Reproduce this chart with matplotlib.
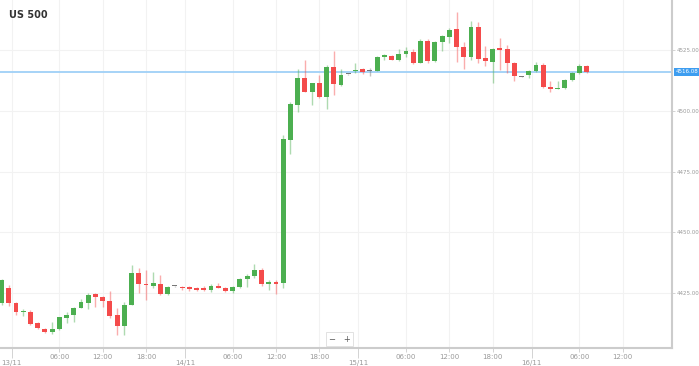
import numpy as np
import matplotlib
matplotlib.use('Agg')
import matplotlib.pyplot as plt

# hourly candles, first one is 12/11 22:00 (hour -2 relative to 13/11 00:00)
start_hour = -2
opens = [4421.0, 4427.0, 4420.8, 4417.2, 4417.1, 4412.6, 4410.2, 4409.1, 4410.2, 4414.9,
         4416.0, 4419.0, 4421.0, 4424.5, 4423.5, 4421.7, 4416.0, 4411.5, 4420.1, 4433.2,
         4428.8, 4428.0, 4428.6, 4424.6, 4427.9, 4427.6, 4427.4, 4427.0, 4427.0, 4426.2,
         4427.9, 4427.3, 4425.8, 4427.4, 4430.8, 4432.0, 4434.5, 4428.6, 4429.7, 4429.0,
         4488.1, 4502.5, 4513.5, 4507.7, 4511.4, 4505.9, 4518.2, 4510.7, 4515.2, 4516.5,
         4517.2, 4516.6, 4516.6, 4522.4, 4522.8, 4521.0, 4523.5, 4524.4, 4519.9, 4529.0,
         4520.7, 4528.3, 4530.6, 4533.6, 4526.2, 4522.1, 4534.5, 4521.7, 4520.3, 4525.8,
         4525.5, 4519.9, 4514.1, 4514.7, 4516.5, 4518.9, 4510.0, 4509.2, 4509.3, 4512.8,
         4515.6, 4518.5]
highs = [4431.0, 4428.3, 4421.5, 4418.3, 4418.0, 4413.2, 4410.5, 4413.2, 4415.3, 4417.3,
         4419.4, 4422.6, 4424.9, 4424.9, 4423.8, 4425.7, 4418.7, 4421.5, 4436.6, 4435.2,
         4434.5, 4433.8, 4432.5, 4427.8, 4428.1, 4428.0, 4428.0, 4427.6, 4428.0, 4428.6,
         4429.0, 4427.5, 4428.0, 4431.4, 4432.7, 4436.9, 4435.5, 4430.4, 4430.4, 4490.1,
         4503.8, 4517.2, 4521.0, 4511.6, 4514.8, 4518.9, 4524.7, 4517.3, 4515.4, 4519.9,
         4517.6, 4517.8, 4522.6, 4523.5, 4523.2, 4525.5, 4526.5, 4525.4, 4529.5, 4529.5,
         4529.0, 4531.3, 4534.1, 4540.9, 4528.5, 4537.2, 4536.8, 4526.8, 4525.8, 4529.9,
         4527.2, 4520.3, 4514.3, 4516.9, 4520.3, 4519.6, 4512.5, 4512.5, 4513.0, 4516.2,
         4519.3, 4518.9]
lows = [4420.0, 4419.8, 4416.0, 4415.6, 4411.9, 4410.2, 4408.7, 4408.3, 4409.8, 4412.8,
        4413.2, 4418.7, 4418.4, 4419.4, 4419.4, 4414.6, 4407.7, 4407.8, 4420.0, 4424.9,
        4422.2, 4427.0, 4424.2, 4424.2, 4427.7, 4426.2, 4425.7, 4426.0, 4426.0, 4425.3,
        4427.0, 4425.5, 4425.2, 4427.0, 4427.4, 4431.4, 4428.0, 4426.2, 4424.6, 4427.0,
        4482.3, 4499.7, 4508.0, 4502.5, 4505.4, 4500.7, 4506.6, 4510.4, 4515.0, 4515.8,
        4515.1, 4514.4, 4516.4, 4521.0, 4521.0, 4520.7, 4522.4, 4519.4, 4519.6, 4519.6,
        4520.3, 4524.8, 4528.1, 4520.3, 4517.2, 4521.0, 4519.9, 4518.5, 4511.4, 4516.9,
        4515.5, 4512.5, 4513.9, 4513.5, 4516.2, 4509.4, 4507.7, 4509.0, 4509.2, 4512.5,
        4515.3, 4515.5]
closes = [4430.4, 4420.8, 4417.1, 4417.6, 4412.1, 4410.5, 4409.1, 4410.2, 4415.0, 4416.0,
          4419.0, 4421.2, 4424.2, 4423.3, 4421.7, 4415.7, 4411.5, 4420.1, 4433.2, 4428.6,
          4428.4, 4429.0, 4424.6, 4427.6, 4427.9, 4427.0, 4426.6, 4426.4, 4426.3, 4428.0,
          4427.3, 4426.0, 4427.4, 4430.8, 4432.0, 4434.5, 4428.6, 4429.7, 4428.7, 4488.3,
          4502.8, 4513.5, 4508.0, 4511.4, 4505.6, 4518.0, 4511.0, 4514.8, 4515.2, 4517.0,
          4516.2, 4516.6, 4522.4, 4522.8, 4521.0, 4523.5, 4524.7, 4519.9, 4529.0, 4520.7,
          4528.5, 4530.9, 4533.4, 4526.2, 4522.1, 4534.5, 4521.3, 4520.7, 4525.4, 4525.1,
          4519.9, 4514.4, 4514.1, 4516.5, 4518.9, 4509.8, 4509.1, 4509.6, 4512.8, 4515.8,
          4518.5, 4516.08]

title = 'US 500'
last_price = 4516.08
price_ticks = [4425, 4450, 4475, 4500, 4525]
time_labels = ['06:00', '12:00', '18:00']
date_labels = ['13/11', '14/11', '15/11', '16/11']

GREEN = '#4caf50'
RED = '#f44b4b'
GRAY = '#777777'

hours = np.arange(len(opens)) + start_hour
o = np.array(opens)
c = np.array(closes)
h = np.array(highs)
l = np.array(lows)

fig = plt.figure(figsize=(6.99, 3.66), dpi=100)
ax = fig.add_axes([0.0, 18 / 366, 672 / 699, 348 / 366])

colors = np.where(c > o, GREEN, np.where(c < o, RED, GRAY))

# wicks
for x, hi, lo, col in zip(hours, h, l, colors):
    ax.vlines(x, lo, hi, color=col, alpha=0.45, lw=1.0, zorder=2)

# bodies
bottoms = np.minimum(o, c)
heights = np.maximum(np.abs(c - o), 0.45)
ax.bar(hours, heights, bottom=bottoms, width=0.68, color=colors, lw=0, zorder=3)

# last price line
ax.axhline(last_price, color='#9fd0f7', lw=1.3, zorder=1)

ax.set_xlim(-2.21, 90.83)
ax.set_ylim(4402.4, 4545.7)

# time axis: day labels sit a bit before midnight, hours every 6h
day_pos = [24 * d - 0.6 for d in range(len(date_labels))]
hour_pos = [24 * d + int(t[:2]) for d in range(len(date_labels)) for t in time_labels]
hour_lab = [t for d in range(len(date_labels)) for t in time_labels]
hour_pos, hour_lab = zip(*[(p, s) for p, s in zip(hour_pos, hour_lab) if p < 90])

ax.set_xticks(day_pos)
ax.set_xticklabels(date_labels)
ax.set_xticks(hour_pos, minor=True)
ax.set_xticklabels(hour_lab, minor=True)
ax.tick_params(axis='x', which='major', length=7, width=0.6, color='#cccccc',
               labelsize=5, labelcolor='#999999', pad=1.5)
ax.tick_params(axis='x', which='minor', length=3, width=0.6, color='#cccccc',
               labelsize=5, labelcolor='#999999', pad=1)

ax.yaxis.tick_right()
ax.set_yticks(price_ticks)
ax.set_yticklabels([f'{p:.2f}' for p in price_ticks])
ax.tick_params(axis='y', length=2.5, width=0.6, color='#cccccc', labelsize=4,
               labelcolor='#999999', pad=0.8)

for p in price_ticks:
    ax.axhline(p, color='#f2f2f2', lw=0.8, zorder=0)
for p in list(day_pos) + list(hour_pos):
    ax.axvline(p, color='#f2f2f2', lw=0.8, zorder=0)

for side in ['top', 'left']:
    ax.spines[side].set_visible(False)
ax.spines['right'].set_color('#cccccc')
ax.spines['right'].set_linewidth(1.5)
ax.spines['bottom'].set_color('#cccccc')
ax.spines['bottom'].set_linewidth(1.5)

ax.text(0.014, 0.97, title, transform=ax.transAxes, fontsize=7, fontweight='bold',
        color='#333333', va='top', ha='left')

# last price tag on the axis
ax.annotate(f'{last_price:.2f}', xy=(1.0, last_price), xycoords=('axes fraction', 'data'),
            xytext=(2.5, 0), textcoords='offset points', fontsize=4, color='white',
            va='center', ha='left',
            bbox=dict(boxstyle='square,pad=0.3', fc='#3d9df0', ec='none'))

# zoom control
fig.text(339.5 / 699, 1 - 339 / 366, '\u2212   +', fontsize=6, color='#555555',
         ha='center', va='center',
         bbox=dict(boxstyle='square,pad=0.3', fc='white', ec='#dddddd', lw=0.6))

fig.savefig('out.png', dpi=100)
